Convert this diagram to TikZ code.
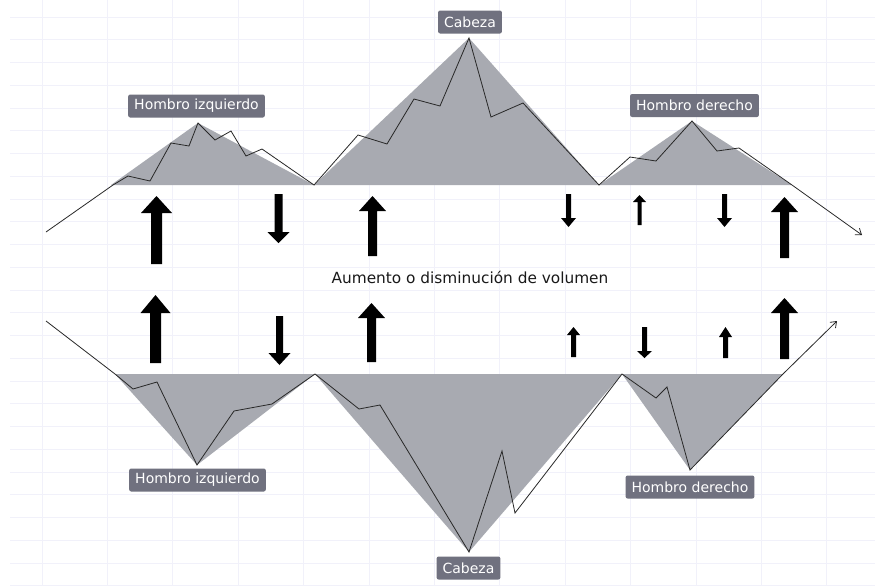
\documentclass[tikz,border=0pt]{standalone}
\usepackage{fontspec}
\setmainfont{DejaVu Sans}
\usetikzlibrary{arrows.meta}
\definecolor{gridc}{RGB}{241,241,250}
\definecolor{areac}{RGB}{168,170,177}
\definecolor{tagc}{RGB}{112,113,127}
\definecolor{pricec}{RGB}{40,40,40}
\tikzset{
  gridline/.style={draw=gridc, line width=0.6pt},
  area/.style={fill=areac, draw=none},
  price/.style={draw=pricec, line width=0.6pt, line join=miter},
  pricetip/.style={-{Straight Barb[length=4pt,width=6pt]}},
  tag/.style={fill=tagc, text=white, rounded corners=1.5pt, inner xsep=4.5pt,
    inner ysep=0pt, minimum height=17.25pt, font=\fontsize{10.5}{12}\selectfont},
  caption/.style={font=\fontsize{11.5}{13}\selectfont, text=black!90},
  volbar/.style={fill=black, draw=none}
}
\begin{document}
\begin{tikzpicture}[x=0.75pt,y=-0.75pt]
\useasboundingbox (0,0) rectangle (883,586);
\fill[white] (0,0) rectangle (883,586);

% background grid
\foreach \k in {0,...,25}
  \draw[gridline] (10,{17+22.75*\k}) -- (875,{17+22.75*\k});
\foreach \k in {0,...,12}
  \draw[gridline] ({42+65.4*\k},0) -- ({42+65.4*\k},586);

% ---------- top pattern (head and shoulders) ----------
\coordinate (tls) at (111,185);
\coordinate (tlp) at (198,123);
\coordinate (tv1) at (314,185);
\coordinate (thp) at (469,38);
\coordinate (tv2) at (599,185);
\coordinate (trp) at (692,121);
\coordinate (tre) at (792,185);
\coordinate (tstart) at (46,232);
\coordinate (tend) at (862,235);

\fill[area] (tls) -- (tlp) -- (tv1) -- cycle;
\fill[area] (tv1) -- (thp) -- (tv2) -- cycle;
\fill[area] (tv2) -- (trp) -- (tre) -- cycle;

\draw[price,pricetip] (tstart) -- (113,185) -- (128,176) -- (150,181) -- (171,143)
  -- (189,146) -- (tlp) -- (215,140) -- (231,131) -- (246,156) -- (262,149)
  -- (tv1) -- (358,135) -- (387,144) -- (414,99) -- (440,106) -- (thp)
  -- (491,117) -- (523,103) -- (tv2) -- (630,157) -- (656,161) -- (trp)
  -- (717,151) -- (739,148) -- (tre) -- (tend);

\node[tag] (tagTL) at (196.5,106) {Hombro izquierdo};
\node[tag] (tagTH) at (470,22) {Cabeza};
\node[tag] (tagTR) at (694.5,105.5) {Hombro derecho};

% ---------- bottom pattern (inverse head and shoulders) ----------
\coordinate (bls) at (115,374);
\coordinate (blp) at (197,465);
\coordinate (bv1) at (315,374);
\coordinate (bhp) at (469,552);
\coordinate (bv2) at (622,374);
\coordinate (brp) at (690,470);
\coordinate (bre) at (783,374);
\coordinate (bstart) at (46,321);
\coordinate (bend) at (837,321);

\fill[area] (bls) -- (blp) -- (bv1) -- cycle;
\fill[area] (bv1) -- (bhp) -- (bv2) -- cycle;
\fill[area] (bv2) -- (brp) -- (bre) -- cycle;

\draw[price,pricetip] (bstart) -- (bls) -- (133,389) -- (157,382) -- (blp)
  -- (234,411) -- (272,404) -- (bv1) -- (359,409) -- (380,405) -- (bhp)
  -- (502,451) -- (515,513) -- (bv2) -- (656,398) -- (667,387) -- (brp)
  -- (bre) -- (bend);

\node[tag] (tagBL) at (197.5,480) {Hombro izquierdo};
\node[tag] (tagBH) at (468.5,568) {Cabeza};
\node[tag] (tagBR) at (690,487) {Hombro derecho};

% ---------- volume arrows: x, tail, tip, shaft half width, head half width, head base ----------
\foreach \x/\tl/\tp/\sw/\hw/\hb in {
  156.5/264/196/5.5/15.5/213, 278.5/194/243/4/11/232, 372.5/256/196/4.5/13.5/211,
  568.5/194/227/2.5/7.5/218, 639.5/225/195/2/6.5/202, 724.5/194/227/2.5/7.5/218,
  784.5/258/197/4.5/13.5/212,
  155.5/363/295/5.5/15/313, 279.5/316/365/3.5/11/353, 371.5/362/303/4.5/13.5/318,
  573.5/357/327/2.5/6.5/335, 644.5/327/358/2.5/7.5/351, 725.5/358/327/2.5/6.5/337,
  784.5/359/298/4.5/13.5/313}
  \fill[volbar] ({\x-\sw},\tl) -- ({\x-\sw},\hb) -- ({\x-\hw},\hb) -- (\x,\tp)
    -- ({\x+\hw},\hb) -- ({\x+\sw},\hb) -- ({\x+\sw},\tl) -- cycle;

\node[caption] (vol) at (470,277) {Aumento o disminución de volumen};
\end{tikzpicture}
\end{document}
